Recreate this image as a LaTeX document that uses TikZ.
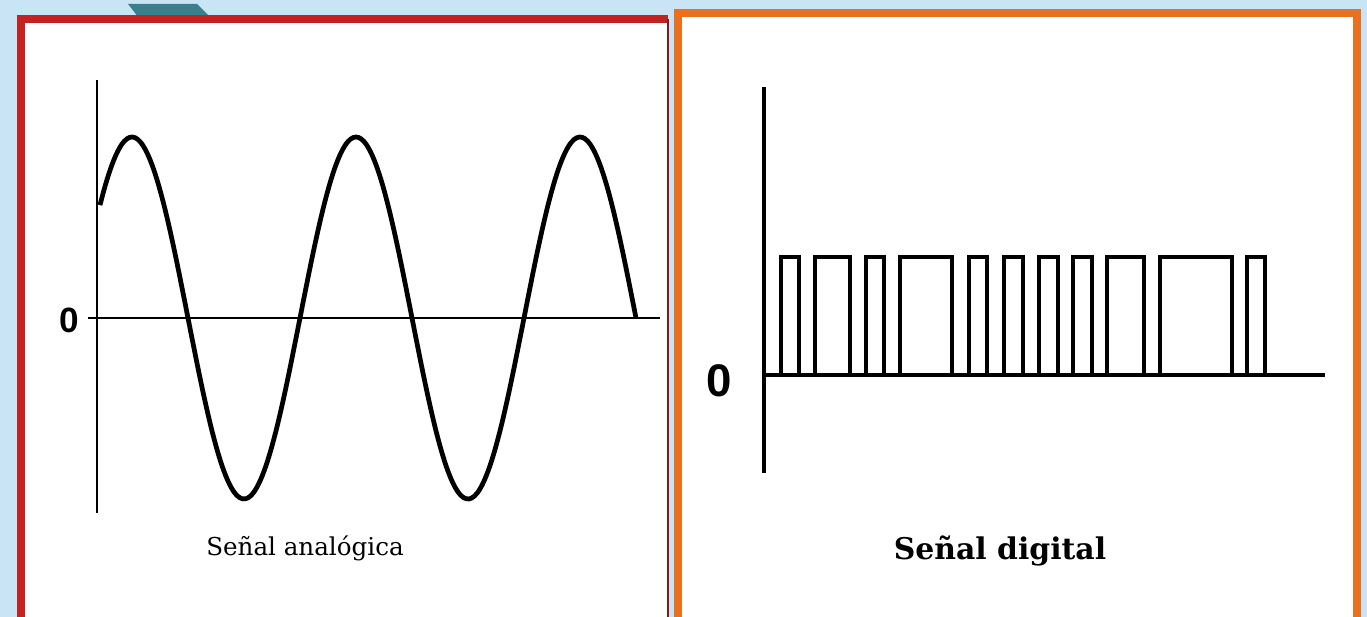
\documentclass[tikz,border=0pt]{standalone}
\usepackage{fontspec}
\usepackage{xcolor}
\usepackage{tikz}
\usetikzlibrary{positioning}
\newfontfamily\serifa{DejaVu Serif}
\newfontfamily\cerofont{Liberation Sans}
\definecolor{fondo}{HTML}{C9E5F5}
\definecolor{rojo}{HTML}{C22220}
\definecolor{naranja}{HTML}{E8701E}
\definecolor{azulverde}{HTML}{3B7F8E}

\begin{document}
\begin{tikzpicture}[x=0.02cm, y=-0.02cm, line join=miter,
    eje/.style={line width=1.1pt},
    onda/.style={line width=2.7pt},
    pulso/.style={line width=2.2pt}]
    \useasboundingbox (0,0) rectangle (1367,617);

    % Fondo
    \fill[fondo] (0,0) rectangle (1367,617);
    \fill[azulverde] (128,4) -- (197,4) -- (215,22) -- (142,22) -- cycle;
    \fill[white] (17,15) rectangle (668,617);
    \fill[white] (675,9) rectangle (1361,617);
    \draw[rojo, line width=4.5pt] (21,617) -- (21,19) -- (668,19);
    \draw[rojo!70!black, line width=1.5pt] (668,19) -- (668,617);
    \draw[naranja, line width=4.2pt] (678,617) -- (678,13) -- (1357,13) -- (1357,617);

    % Analogica
    \draw[eje] (97,80) -- (97,513);
    \draw[eje] (88,318) -- (660,318);
    \draw[onda] plot[domain=100:636, samples=200, smooth] (\x, {318-181*sin(1.6071*(\x-300))});
    \node (cero-an) at (69,320) {\cerofont\bfseries\fontsize{20}{20}\selectfont 0};
    \node[anchor=base] (titulo-an) at (305,556) {\serifa\fontsize{14}{14}\selectfont Señal analógica};

    % Digitale
    \draw[pulso] (764,87) -- (764,473);
    \draw[pulso] (764,375) -- (1325,375);
    \foreach \a/\b in {781/799, 815/850, 866/884, 900/952, 969/987, 1004/1023,
                       1039/1058, 1073/1092, 1107/1144, 1160/1232, 1247/1265}
        \draw[pulso] (\a,375) -- (\a,257) -- (\b,257) -- (\b,375);
    \node (cero-dig) at (719,381) {\cerofont\bfseries\fontsize{26}{26}\selectfont 0};
    \node[anchor=base] (titulo-dig) at (1000,560) {\serifa\bfseries\fontsize{17}{17}\selectfont Señal digital};
\end{tikzpicture}
\end{document}
